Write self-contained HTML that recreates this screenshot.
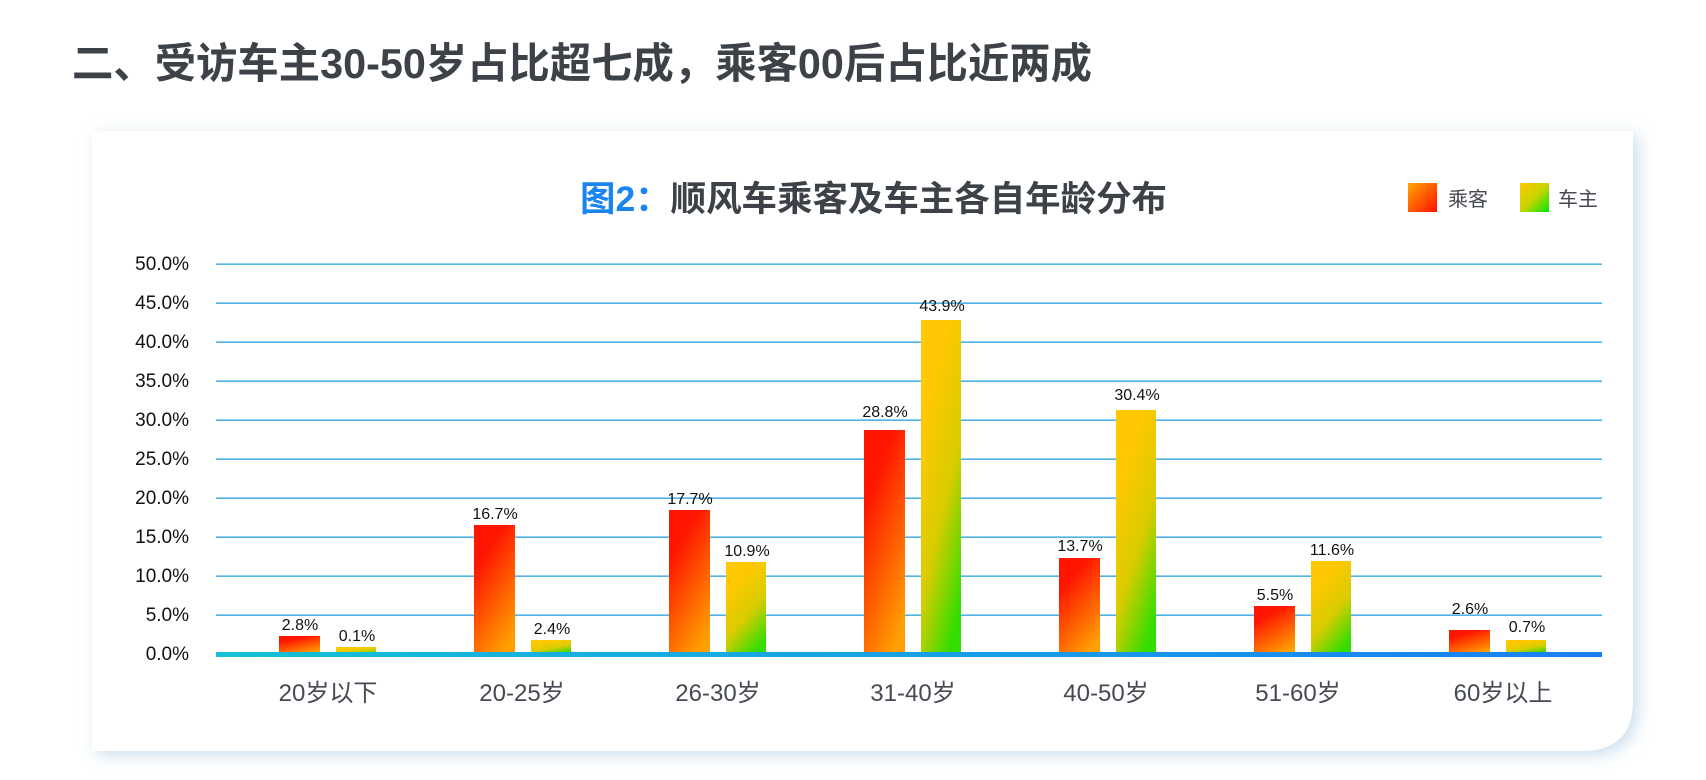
<!DOCTYPE html>
<html><head><meta charset="utf-8"><style>
body{margin:0;width:1706px;height:780px;background:#fff;overflow:hidden;font-family:"Liberation Sans","Noto Sans CJK SC",sans-serif}
</style></head><body>
<svg width="1706" height="780" viewBox="0 0 1706 780" xmlns="http://www.w3.org/2000/svg" style="position:absolute;left:0;top:0">
<defs>
<linearGradient id="r" x1="0.3" y1="0.2" x2="0.7" y2="1"><stop offset="0" stop-color="#ff1500"/><stop offset="1" stop-color="#ffa000"/></linearGradient>
<linearGradient id="y" x1="0.3" y1="0.2" x2="0.7" y2="1"><stop offset="0" stop-color="#ffc800"/><stop offset="0.5" stop-color="#d8cc00"/><stop offset="1" stop-color="#33dd00"/></linearGradient>
<linearGradient id="lr" x1="0" y1="0" x2="1" y2="1"><stop offset="0" stop-color="#ffa800"/><stop offset="1" stop-color="#ff1000"/></linearGradient>
<linearGradient id="ly" x1="0" y1="0" x2="1" y2="1"><stop offset="0" stop-color="#ffc800"/><stop offset="0.5" stop-color="#c8d400"/><stop offset="1" stop-color="#00e800"/></linearGradient>
<linearGradient id="base" x1="0" y1="0" x2="1" y2="0"><stop offset="0" stop-color="#15c0d8"/><stop offset="1" stop-color="#1a7ff0"/></linearGradient>
<filter id="sh" x="-5%" y="-5%" width="110%" height="115%"><feDropShadow dx="5" dy="4" stdDeviation="8" flood-color="#c0d8ea" flood-opacity="0.85"/></filter>
</defs>
<text x="72" y="78" font-size="42" font-weight="bold" fill="#3d4148" textLength="1020" lengthAdjust="spacingAndGlyphs">二、受访车主30-50岁占比超七成，乘客00后占比近两成</text>
<path d="M92 131 H1633 V700 Q1633 751 1582 751 H92 Z" fill="#fff" filter="url(#sh)"/>
<text x="580" y="211" font-size="35" font-weight="bold" fill="#3d4148" textLength="587" lengthAdjust="spacingAndGlyphs"><tspan fill="#1a85f0">图2：</tspan>顺风车乘客及车主各自年龄分布</text>
<rect x="1408" y="183" width="29" height="29" fill="url(#lr)"/>
<text x="1448" y="206" font-size="20" fill="#454a52">乘客</text>
<rect x="1520" y="183" width="29" height="29" fill="url(#ly)"/>
<text x="1558" y="206" font-size="20" fill="#454a52">车主</text>
<g fill="#27a2e0">
<rect x="216" width="1386" y="263.5" height="1.3"/><rect x="216" width="1386" y="302.5" height="1.3"/><rect x="216" width="1386" y="341.5" height="1.3"/><rect x="216" width="1386" y="380.5" height="1.3"/><rect x="216" width="1386" y="419.5" height="1.3"/><rect x="216" width="1386" y="458.5" height="1.3"/><rect x="216" width="1386" y="497.5" height="1.3"/><rect x="216" width="1386" y="536.5" height="1.3"/><rect x="216" width="1386" y="575.5" height="1.3"/><rect x="216" width="1386" y="614.5" height="1.3"/>
</g>
<g font-size="19" fill="#111" text-anchor="end">
<text x="189" y="270">50.0%</text><text x="189" y="309">45.0%</text><text x="189" y="348">40.0%</text><text x="189" y="387">35.0%</text><text x="189" y="426">30.0%</text><text x="189" y="465">25.0%</text><text x="189" y="504">20.0%</text><text x="189" y="543">15.0%</text><text x="189" y="582">10.0%</text><text x="189" y="621">5.0%</text><text x="189" y="660">0.0%</text>
</g>
<g>
<rect x="279" y="636" width="41" height="18" fill="url(#r)"/><rect x="336" y="647" width="40" height="7" fill="url(#y)"/>
<rect x="474" y="525" width="41" height="129" fill="url(#r)"/><rect x="531" y="640" width="40" height="14" fill="url(#y)"/>
<rect x="669" y="510" width="41" height="144" fill="url(#r)"/><rect x="726" y="562" width="40" height="92" fill="url(#y)"/>
<rect x="864" y="430" width="41" height="224" fill="url(#r)"/><rect x="921" y="320" width="40" height="334" fill="url(#y)"/>
<rect x="1059" y="558" width="41" height="96" fill="url(#r)"/><rect x="1116" y="410" width="40" height="244" fill="url(#y)"/>
<rect x="1254" y="606" width="41" height="48" fill="url(#r)"/><rect x="1311" y="561" width="40" height="93" fill="url(#y)"/>
<rect x="1449" y="630" width="41" height="24" fill="url(#r)"/><rect x="1506" y="640" width="40" height="14" fill="url(#y)"/>
</g>
<rect x="216" y="652" width="1386" height="5" fill="url(#base)"/>
<g font-size="16" fill="#111" text-anchor="middle">
<text x="300" y="630">2.8%</text><text x="357" y="641">0.1%</text>
<text x="495" y="519">16.7%</text><text x="552" y="634">2.4%</text>
<text x="690" y="504">17.7%</text><text x="747" y="556">10.9%</text>
<text x="885" y="417">28.8%</text><text x="942" y="311">43.9%</text>
<text x="1080" y="551">13.7%</text><text x="1137" y="400">30.4%</text>
<text x="1275" y="600">5.5%</text><text x="1332" y="555">11.6%</text>
<text x="1470" y="614">2.6%</text><text x="1527" y="632">0.7%</text>
</g>
<g font-size="24" fill="#454a52" text-anchor="middle">
<text x="328" y="701">20岁以下</text><text x="522" y="701">20-25岁</text><text x="718" y="701">26-30岁</text><text x="913" y="701">31-40岁</text><text x="1106" y="701">40-50岁</text><text x="1298" y="701">51-60岁</text><text x="1503" y="701">60岁以上</text>
</g>
</svg>
</body></html>
